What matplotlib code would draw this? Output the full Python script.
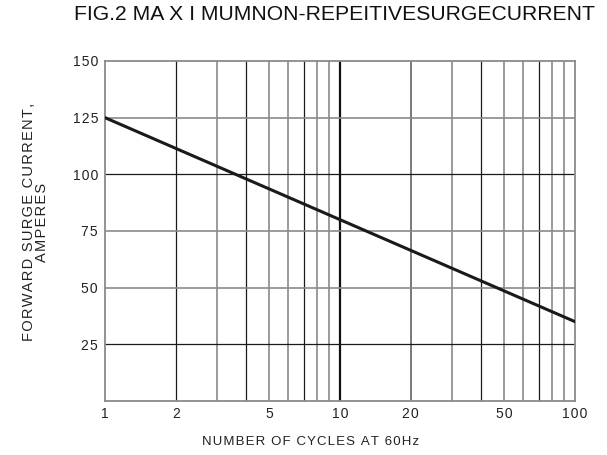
import matplotlib
matplotlib.use("Agg")
import matplotlib.pyplot as plt
from matplotlib.ticker import FixedLocator, NullLocator

plt.rcParams['font.family'] = ['Liberation Sans', 'DejaVu Sans']

# curve end points (straight on log axis)
cycles = [1, 100]
surge_current = [125, 35]

x_labels = [1, 2, 5, 10, 20, 50, 100]
y_labels = [25, 50, 75, 100, 125, 150]
grid_x = [2, 3, 4, 5, 6, 7, 8, 9, 10, 20, 30, 40, 50, 60, 70, 80, 90]
dark_x = [2, 4, 7, 10, 40, 70]
dark_y = [25, 100]

HAIR = '\u200a'


def spaced(s):
    return HAIR.join(s)


fig = plt.figure(figsize=(6.07, 4.55), dpi=100)
ax = fig.add_axes([105 / 607, 1 - 401 / 455, 470 / 607, 340 / 455])

ax.set_xscale('log')
ax.set_xlim(1, 100)
ax.set_ylim(0, 150)

for gx in grid_x:
    if gx == 10:
        ax.axvline(gx, color='#111111', lw=1.6, zorder=1)
    elif gx in dark_x:
        ax.axvline(gx, color='#1a1a1a', lw=0.9, zorder=1)
    elif gx == 20:
        ax.axvline(gx, color='#555555', lw=1.1, zorder=1)
    else:
        ax.axvline(gx, color='#8a8a8a', lw=1.2, zorder=1)
for gy in y_labels[:-1]:
    if gy in dark_y:
        ax.axhline(gy, color='#1a1a1a', lw=0.9, zorder=1)
    else:
        ax.axhline(gy, color='#8a8a8a', lw=1.2, zorder=1)

ax.plot(cycles, surge_current, color='#1a1a1a', lw=2.2, zorder=3)

ax.xaxis.set_major_locator(FixedLocator(x_labels))
ax.xaxis.set_minor_locator(NullLocator())
ax.set_xticklabels([spaced(str(v)) for v in x_labels])
ax.set_yticks(y_labels)
ax.set_yticklabels([spaced(str(v)) for v in y_labels])
ax.tick_params(length=0, labelsize=10, colors='#222222')
ax.tick_params(axis='x', pad=4)
ax.tick_params(axis='y', pad=5)

for s in ax.spines.values():
    s.set_color('#8a8a8a')
    s.set_linewidth(1.3)

ax.set_xlabel(spaced('NUMBER OF CYCLES AT 60Hz'), fontsize=9.5, color='#222222')
ax.xaxis.set_label_coords(0.438, -0.103)
ax.set_ylabel(spaced('FORWARD SURGE CURRENT,') + '\n' + spaced('AMPERES'),
              fontsize=10.5, color='#222222', linespacing=0.95)
ax.yaxis.set_label_coords(-0.119, 0.526)

fig.text(595 / 607, 1 - 15 / 455, 'FIG.2 MA X I MUMNON-REPEITIVESURGECURRENT',
         ha='right', va='center', fontsize=15.2, color='#111111')

fig.savefig('out.png', dpi=100)
